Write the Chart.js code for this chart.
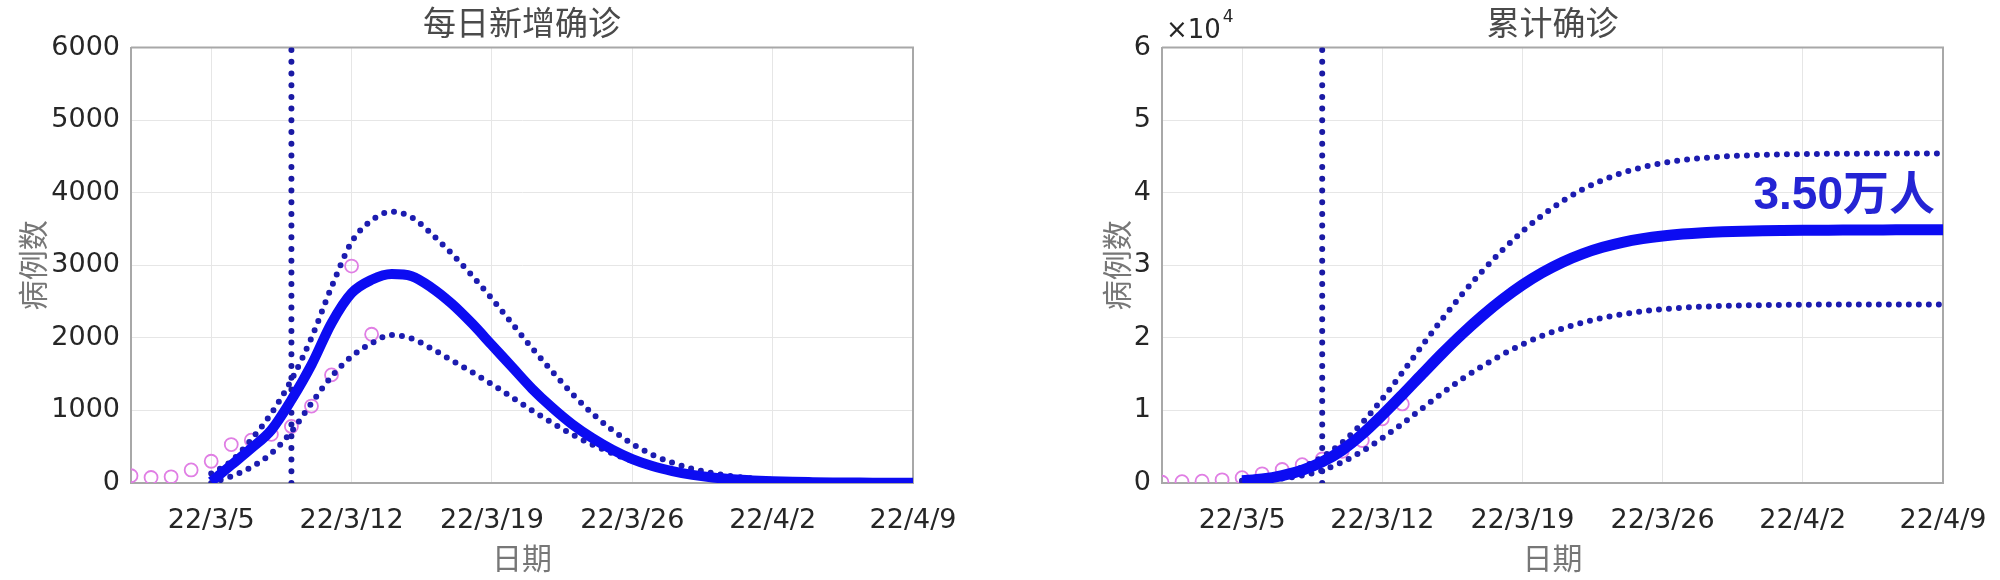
<!DOCTYPE html>
<html>
<head>
<meta charset="utf-8">
<script src="https://cdn.jsdelivr.net/npm/chart.js@4.4.1/dist/chart.umd.min.js"></script>
<style>
    html, body { margin: 0; padding: 0; background: #fff; }
    #wrap { position: relative; width: 2000px; height: 580px; }
    .box { position: absolute; top: 0; width: 1000px; height: 580px; }
</style>
</head>
<body>
<div id="wrap">
    <div class="box" style="left:0"><canvas id="dailyChart"></canvas></div>
    <div class="box" style="left:1000px"><canvas id="totalChart"></canvas></div>
</div>
<script>
// day index on the x axis, 0 = 22/3/1
var tickDays = [4, 11, 18, 25, 32, 39];
var tickLabels = ['22/3/5', '22/3/12', '22/3/19', '22/3/26', '22/4/2', '22/4/9'];
var forecastDay = 8; // 22/3/9, dotted vertical line

// observed (circles)
var obsDays = [0, 1, 2, 3, 4, 5, 6, 7, 8, 9, 10, 11, 12];
var obsDaily = [100, 76, 85, 180, 300, 530, 590, 670, 780, 1060, 1490, 2990, 2050];
var obsTotal = [100, 180, 260, 440, 740, 1270, 1860, 2530, 3310, 4370, 5860, 8850, 10900];

// model, days 4..39
var modelDays = [4, 5, 6, 7, 8, 9, 10, 11, 12, 13, 14, 15, 16, 17, 18, 19, 20, 21,
                 22, 23, 24, 25, 26, 27, 28, 29, 30, 31, 32, 33, 34, 35, 36, 37, 38, 39];
var dailyMean = [20, 248, 478, 731, 1145, 1628, 2202, 2616, 2800, 2880, 2850, 2690, 2470, 2200, 1900, 1600, 1300, 1040,
                 810, 620, 460, 330, 235, 165, 112, 76, 52, 36, 25, 17, 12, 8, 6, 4, 3, 2];
var dailyUpper = [130, 300, 600, 960, 1420, 2000, 2700, 3320, 3620, 3740, 3660, 3430, 3160, 2860, 2540, 2200, 1860, 1540,
                  1230, 960, 730, 540, 390, 280, 195, 135, 92, 63, 44, 30, 20, 14, 10, 7, 5, 4];
var dailyLower = [0, 90, 220, 409, 708, 1099, 1467, 1743, 1926, 2041, 1990, 1850, 1690, 1530, 1360, 1180, 1000, 830,
                  670, 530, 410, 305, 220, 155, 108, 74, 50, 34, 23, 15, 10, 7, 5, 3, 2, 2];
var totalMean = [300, 550, 1030, 1760, 2900, 4530, 6730, 9350, 12150, 15030, 17880, 20570, 23050, 25300, 27300, 29010, 30430, 31580,
                 32480, 33170, 33680, 34050, 34310, 34490, 34610, 34690, 34750, 34790, 34820, 34840, 34860, 34870, 34880, 34890, 34895, 34900];
var totalUpper = [300, 600, 1200, 2160, 3580, 5580, 8280, 11600, 15220, 18960, 22620, 26050, 29210, 32090, 34670, 36920, 38840, 40440,
                  41730, 42740, 43510, 44080, 44490, 44780, 44980, 45120, 45215, 45280, 45325, 45355, 45375, 45390, 45400, 45405, 45410, 45415];
var totalLower = [300, 400, 620, 1030, 1750, 2870, 4380, 6180, 8180, 10300, 12400, 14350, 16100, 17700, 19100, 20300, 21300, 22100,
                  22750, 23250, 23650, 23950, 24150, 24300, 24400, 24470, 24520, 24550, 24570, 24585, 24595, 24600, 24605, 24608, 24610, 24612];
var totalNote = '3.50万人';
var totalNoteLevel = 39500;

var cjk = '"Noto Sans CJK SC", sans-serif';
var tickFont = { family: '"DejaVu Sans", sans-serif', size: 27 };
var tickColor = '#262626';
var gridColor = '#e6e6e6';
var frameColor = '#a8a8a8';

function points(xs, ys) {
    return xs.map(function (x, i) { return { x: x, y: ys[i] }; });
}

function meanSet(ys, w) {
    return { data: points(modelDays, ys), borderColor: '#0c0cf2', borderWidth: w, pointRadius: 0,
             cubicInterpolationMode: 'monotone', order: 1 };
}
function boundSet(ys) {
    return { data: points(modelDays, ys), borderColor: '#1c1cb0', borderWidth: 6, borderDash: [0, 10],
             borderCapStyle: 'round', pointRadius: 0, cubicInterpolationMode: 'monotone', order: 2 };
}
function vlineSet(top) {
    return { data: [{ x: forecastDay, y: 0 }, { x: forecastDay, y: top }], borderColor: '#1a1aa4', borderWidth: 6,
             borderDash: [0, 11.7], borderCapStyle: 'round', pointRadius: 0, order: 3 };
}
function obsSet(ys) {
    return { data: points(obsDays, ys), showLine: false, pointStyle: 'circle', pointRadius: 6.5, pointBorderWidth: 1.8,
             pointBorderColor: '#e07ee4', pointBackgroundColor: 'rgba(0,0,0,0)', order: 4 };
}

// top and right edges of the axes box
var framePlugin = {
    id: 'frame',
    beforeDatasetsDraw: function (chart) {
        var a = chart.chartArea, ctx = chart.ctx;
        ctx.save();
        ctx.strokeStyle = frameColor;
        ctx.lineWidth = 2;
        ctx.beginPath();
        ctx.moveTo(a.left, a.top);
        ctx.lineTo(a.right, a.top);
        ctx.lineTo(a.right, a.bottom);
        ctx.stroke();
        ctx.restore();
    }
};

// x10^4 exponent and the final total
var notePlugin = {
    id: 'notes',
    afterDatasetsDraw: function (chart) {
        var a = chart.chartArea, ctx = chart.ctx;
        var xs = chart.scales.x, ys = chart.scales.y;
        ctx.save();
        ctx.fillStyle = tickColor;
        ctx.textBaseline = 'middle';
        ctx.font = '26px "DejaVu Sans"';
        ctx.fillText('\u00d710', a.left + 4, a.top - 16);
        var w = ctx.measureText('\u00d710').width;
        ctx.font = '17px "DejaVu Sans"';
        ctx.fillText('4', a.left + 6 + w, a.top - 30);

        ctx.fillStyle = '#2424d4';
        ctx.textAlign = 'right';
        ctx.font = 'bold 46px "Liberation Sans", "Noto Sans CJK SC"';
        ctx.fillText(totalNote, xs.getPixelForValue(39) - 8, ys.getPixelForValue(totalNoteLevel));
        ctx.restore();
    }
};

function makeOptions(o) {
    return {
        responsive: true,
        maintainAspectRatio: false,
        animation: false,
        layout: { padding: { left: o.padLeft, right: o.padRight, top: 0, bottom: 0 } },
        plugins: {
            legend: { display: false },
            tooltip: { enabled: false },
            title: {
                display: true, text: o.title, fullSize: false, color: '#4a4a4a',
                font: { family: cjk, size: 33, weight: 'normal' },
                padding: { top: 3, bottom: 5 }
            }
        },
        scales: {
            x: {
                type: 'linear', min: 0, max: 39,
                afterBuildTicks: function (s) {
                    s.ticks = tickDays.map(function (d) { return { value: d }; });
                },
                afterFit: function (s) {
                    s.height = 97;
                    // labels may hang past the box edge, keep the plot width fixed
                    s.paddingLeft = 0;
                    s.paddingRight = 0;
                },
                ticks: {
                    autoSkip: false, maxRotation: 0, padding: 22, color: tickColor, font: tickFont,
                    callback: function (v) { return tickLabels[tickDays.indexOf(v)]; }
                },
                grid: { color: gridColor, drawTicks: false },
                border: { color: frameColor, width: 2 },
                title: {
                    display: true, text: '日期', color: '#777',
                    font: { family: cjk, size: 30 }, padding: { top: 0, bottom: 4 }
                }
            },
            y: {
                min: 0, max: o.ymax,
                afterFit: function (s) { s.width = o.axisWidth; },
                ticks: { stepSize: o.step, padding: 11, color: tickColor, font: tickFont, callback: o.fmt },
                grid: { color: gridColor, drawTicks: false },
                border: { color: frameColor, width: 2 },
                title: {
                    display: true, text: '病例数', color: '#777',
                    font: { family: cjk, size: 30 }, padding: { top: 15, bottom: 5 }
                }
            }
        }
    };
}

new Chart(document.getElementById('dailyChart'), {
    type: 'line',
    data: {
        datasets: [
            meanSet(dailyMean, 10),
            boundSet(dailyUpper),
            boundSet(dailyLower),
            vlineSet(6000),
            obsSet(obsDaily)
        ]
    },
    options: makeOptions({
        title: '每日新增确诊', ymax: 6000, step: 1000, padLeft: 0, padRight: 87, axisWidth: 131,
        fmt: function (v) { return v; }
    }),
    plugins: [framePlugin]
});

new Chart(document.getElementById('totalChart'), {
    type: 'line',
    data: {
        datasets: [
            meanSet(totalMean, 11),
            boundSet(totalUpper),
            boundSet(totalLower),
            vlineSet(60000),
            obsSet(obsTotal)
        ]
    },
    options: makeOptions({
        title: '累计确诊', ymax: 60000, step: 10000, padLeft: 84, padRight: 57, axisWidth: 78,
        fmt: function (v) { return v / 10000; }
    }),
    plugins: [framePlugin, notePlugin]
});
</script>
</body>
</html>
